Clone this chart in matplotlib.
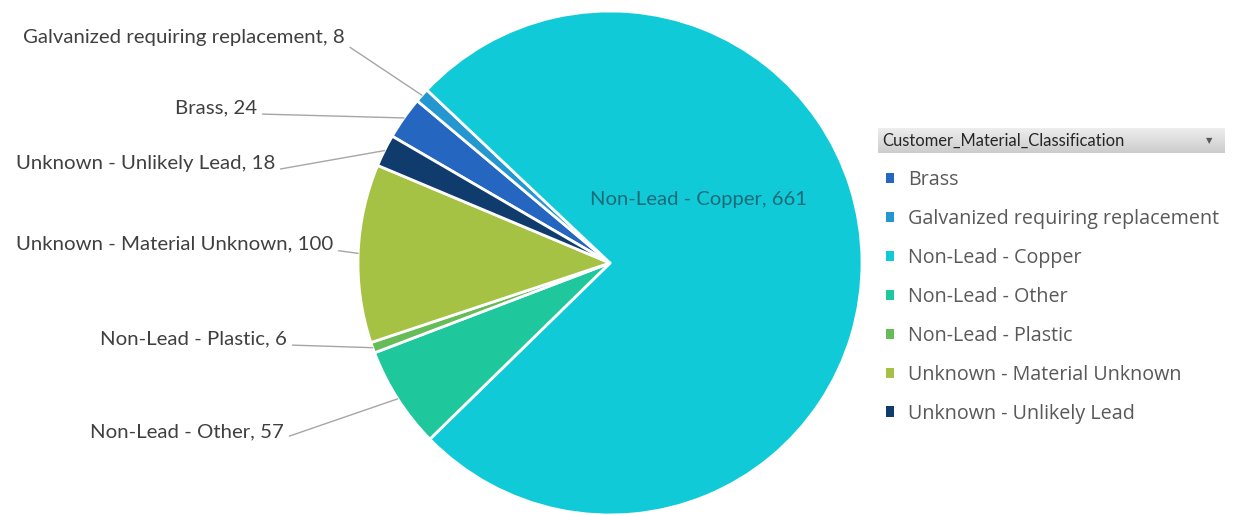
import numpy as np
import matplotlib.pyplot as plt

categories = ['Brass', 'Galvanized requiring replacement', 'Non-Lead - Copper',
              'Non-Lead - Other', 'Non-Lead - Plastic',
              'Unknown - Material Unknown', 'Unknown - Unlikely Lead']
counts = [24, 8, 661, 57, 6, 100, 18]
colors = ['#2566C0', '#2597D0', '#10CAD8', '#1FC79C', '#66BC58', '#A6C245', '#0F3C6C']

# outside label anchors (right end x, centre y), pixels from top-left
label_xy = {
    'Galvanized requiring replacement': (345, 38),
    'Brass': (257, 108),
    'Unknown - Unlikely Lead': (275, 164),
    'Unknown - Material Unknown': (333, 244),
    'Non-Lead - Plastic': (287, 339),
    'Non-Lead - Other': (284, 432),
}

W, H = 1233, 516
fig = plt.figure(figsize=(W / 100, H / 100), dpi=100)
cx, cy, r = 610, H - 263, 252
ax = fig.add_axes([(cx - r) / W, (cy - r) / H, 2 * r / W, 2 * r / H])
wedges, _ = ax.pie(counts, colors=colors, startangle=149.8, counterclock=False,
                   wedgeprops=dict(edgecolor='white', linewidth=2))
ax.set_xlim(-1, 1)
ax.set_ylim(-1, 1)
ax.axis('off')

for w, name, n in zip(wedges, categories, counts):
    if name == 'Non-Lead - Copper':
        ax.text(0.35, 0.25, f'{name}, {n}', ha='center', va='center',
                fontsize=14.6, color='#1B6C78', family='Lato')
        continue
    ang = np.deg2rad((w.theta1 + w.theta2) / 2)
    tx, ty = label_xy[name]
    ax.annotate(f'{name}, {n}', xy=(np.cos(ang), np.sin(ang)),
                xytext=(tx, H - ty), textcoords='figure pixels',
                ha='right', va='center', fontsize=14.7, color='#404040',
                family='Lato', annotation_clip=False,
                arrowprops=dict(arrowstyle='-', color='#A6A6A6', lw=1,
                                relpos=(1, 0.15), shrinkA=2, shrinkB=0))

# field button above the legend
hax = fig.add_axes([878 / W, 1 - 153 / H, 347 / W, 25 / H])
grad = np.linspace(0.93, 0.80, 50).reshape(-1, 1)
hax.imshow(grad, cmap='gray', vmin=0, vmax=1, aspect='auto',
           extent=(0, 1, 0, 1))
hax.set_xlim(0, 1)
hax.set_ylim(0, 1)
hax.axis('off')
hax.text(0.013, 0.5, 'Customer_Material_Classification', ha='left', va='center',
         fontsize=11.9, color='#262626', family='Lato')
hax.text(0.955, 0.5, '\u25BC', ha='center', va='center', fontsize=6,
         color='#595959')

leg = fig.legend(wedges, categories, loc='upper left',
                 bbox_to_anchor=(886 / W, 1 - 170 / H), frameon=False,
                 prop=dict(family='Open Sans', size=14.2),
                 labelcolor='#595959', handlelength=0.42, handleheight=0.42,
                 handletextpad=0.68, labelspacing=0.96,
                 borderpad=0, borderaxespad=0)
for h in leg.legend_handles:
    h.set_edgecolor('none')

fig.savefig('out.png', dpi=100)
